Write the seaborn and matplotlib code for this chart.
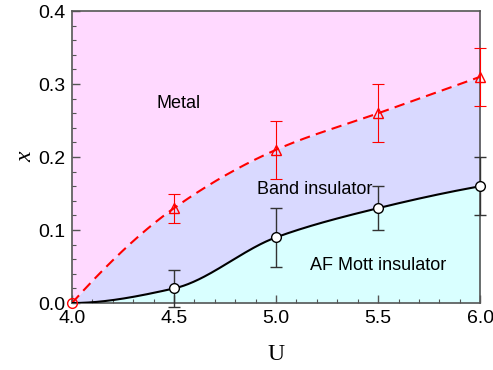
import numpy as np
import pandas as pd
import matplotlib
matplotlib.use("Agg")
import matplotlib.pyplot as plt
import seaborn as sns
from matplotlib.ticker import MultipleLocator

U = [4.0, 4.5, 5.0, 5.5, 6.0]
x_band = [0.0, 0.13, 0.21, 0.26, 0.31]
err_band = [0.0, 0.02, 0.04, 0.04, 0.04]
x_af = [0.0, 0.02, 0.09, 0.13, 0.16]
err_af = [0.0, 0.025, 0.04, 0.03, 0.04]

xticks = [4.0, 4.5, 5.0, 5.5, 6.0]
yticks = [0.0, 0.1, 0.2, 0.3, 0.4]


def pchip(xk, yk, xs):
    xk = np.asarray(xk, float); yk = np.asarray(yk, float)
    h = np.diff(xk); d = np.diff(yk) / h
    n = len(xk); m = np.zeros(n)
    for k in range(1, n - 1):
        if d[k - 1] * d[k] > 0:
            w1 = 2 * h[k] + h[k - 1]; w2 = h[k] + 2 * h[k - 1]
            m[k] = (w1 + w2) / (w1 / d[k - 1] + w2 / d[k])
    m[0] = ((2 * h[0] + h[1]) * d[0] - h[0] * d[1]) / (h[0] + h[1])
    if np.sign(m[0]) != np.sign(d[0]):
        m[0] = 0
    m[-1] = ((2 * h[-1] + h[-2]) * d[-1] - h[-1] * d[-2]) / (h[-1] + h[-2])
    if np.sign(m[-1]) != np.sign(d[-1]):
        m[-1] = 0
    out = np.empty_like(xs)
    for i, x in enumerate(xs):
        k = min(np.searchsorted(xk, x, side="right") - 1, n - 2)
        t = (x - xk[k]) / h[k]
        h00 = 2 * t**3 - 3 * t**2 + 1; h10 = t**3 - 2 * t**2 + t
        h01 = -2 * t**3 + 3 * t**2; h11 = t**3 - t**2
        out[i] = h00 * yk[k] + h10 * h[k] * m[k] + h01 * yk[k + 1] + h11 * h[k] * m[k + 1]
    return out


us = np.linspace(U[0], U[-1], 300)
band_s = pchip(U, x_band, us)
af_s = np.maximum(pchip(U, x_af, us), 0)

sns.set_style("ticks")
plt.rcParams['font.family'] = ['Liberation Sans', 'DejaVu Sans']
plt.rcParams['text.color'] = 'black'
plt.rcParams['axes.labelcolor'] = 'black'
plt.rcParams['xtick.labelcolor'] = 'black'
plt.rcParams['ytick.labelcolor'] = 'black'

fig = plt.figure(figsize=(4.93, 3.70), dpi=100)
ax = fig.add_axes([0.146, 0.181, 0.828, 0.789])

ax.set_xlim(4.0, 6.0)
ax.set_ylim(0.0, 0.4)

ax.fill_between(us, band_s, 0.4, color="#FFD9FF", lw=0, zorder=0)
ax.fill_between(us, af_s, band_s, color="#D9D9FF", lw=0, zorder=0)
ax.fill_between(us, 0, af_s, color="#D9FFFF", lw=0, zorder=0)

df_curves = pd.DataFrame({"U": np.concatenate([us, us]),
                          "x": np.concatenate([band_s, af_s]),
                          "phase": ["band"] * len(us) + ["af"] * len(us)})
sns.lineplot(data=df_curves[df_curves.phase == "band"], x="U", y="x", ax=ax,
             color="red", lw=1.5, linestyle=(0, (5, 3)), zorder=3)
sns.lineplot(data=df_curves[df_curves.phase == "af"], x="U", y="x", ax=ax,
             color="black", lw=1.5, zorder=3)

ax.errorbar(U[1:], x_band[1:], yerr=err_band[1:], fmt="none", ecolor="red",
            elinewidth=0.8, capsize=4, capthick=0.8, zorder=4, clip_on=False)
ax.errorbar(U[1:], x_af[1:], yerr=err_af[1:], fmt="none", ecolor="#333333",
            elinewidth=1.0, capsize=4, capthick=1.0, zorder=4, clip_on=False)

ax.plot(U[1:], x_band[1:], ls="none", marker="^", ms=7, mfc="none", mec="red",
        mew=1.0, zorder=5, clip_on=False)
ax.plot([U[0]], [x_band[0]], ls="none", marker="o", ms=7, mfc="none", mec="red",
        mew=1.0, zorder=6, clip_on=False)
ax.plot(U[1:], x_af[1:], ls="none", marker="o", ms=7, mfc="white", mec="black",
        mew=1.0, zorder=5, clip_on=False)

ax.text(4.52, 0.274, "Metal", ha="center", va="center", fontsize=13)
ax.text(5.19, 0.155, "Band insulator", ha="center", va="center", fontsize=13)
ax.text(5.50, 0.052, "AF Mott insulator", ha="center", va="center", fontsize=13)

ax.set_xticks(xticks)
ax.set_yticks(yticks)
ax.set_xticklabels([f"{v:.1f}" for v in xticks])
ax.set_yticklabels([f"{v:.1f}" for v in yticks])
ax.xaxis.set_minor_locator(MultipleLocator(0.1))
ax.yaxis.set_minor_locator(MultipleLocator(0.02))
ax.tick_params(which="both", direction="in", top=False, right=False, labelsize=14,
               color="#555555", pad=5)
ax.tick_params(which="major", length=6, width=1)
ax.tick_params(which="minor", length=3, width=0.8)
for s in ax.spines.values():
    s.set_color("#555555")
    s.set_linewidth(1.2)

ax.set_xlabel("U", fontsize=17, family=["Liberation Serif"], labelpad=12)
ax.set_ylabel("x", fontsize=17, family=["Liberation Serif"], style="italic", labelpad=1)

fig.savefig("out.png", dpi=100)
